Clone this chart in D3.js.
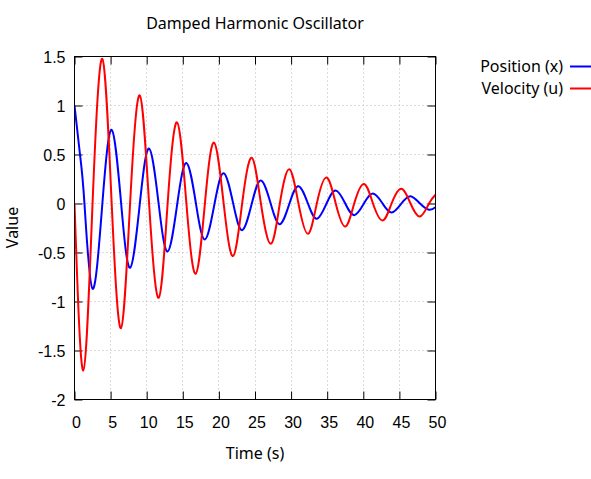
<!DOCTYPE html>
<html>
<head>
<meta charset="utf-8">
<script src="https://cdn.jsdelivr.net/npm/d3@7"></script>
<style>
  body { margin: 0; background: #fff; }
  svg { display: block; font-family: 'Noto Sans', 'Open Sans', sans-serif; }
</style>
</head>
<body>
<svg id="chart"></svg>
<script>
// values (time in s)
const timeTicks = [0, 5, 10, 15, 20, 25, 30, 35, 40, 45, 50];
const valueTicks = [-2, -1.5, -1, -0.5, 0, 0.5, 1, 1.5];

// position x(t): extrema, zero crossings and one extra point near the start
const positionPoints = [
    [0, 1.0], [0.76, 0.5], [1.38, 0], [2.5, -0.87], [3.86, 0], [5.15, 0.752],
    [6.46, 0], [7.7, -0.656], [9.05, 0], [10.33, 0.56], [11.65, 0], [12.9, -0.49],
    [14.24, 0], [15.5, 0.414], [16.82, 0], [18.06, -0.367], [19.4, 0], [20.66, 0.309],
    [21.98, 0], [23.22, -0.272], [24.56, 0], [25.82, 0.235], [27.17, 0], [28.44, -0.211],
    [29.77, 0], [31.02, 0.177], [32.33, 0], [33.56, -0.156], [34.91, 0], [36.18, 0.133],
    [37.5, 0], [38.74, -0.119], [40.08, 0], [41.34, 0.102], [42.67, 0], [43.92, -0.092],
    [45.27, 0], [46.54, 0.075], [47.86, 0], [49.1, -0.064], [50, -0.038]
];

// velocity u(t)
const velocityPoints = [
    [0, 0], [1.22, -1.704], [2.5, 0], [3.85, 1.476], [5.15, 0],
    [6.44, -1.272], [7.7, 0], [9.03, 1.103], [10.33, 0], [11.66, -0.962], [12.9, 0],
    [14.2, 0.828], [15.5, 0], [16.78, -0.717], [18.06, 0], [19.32, 0.621], [20.66, 0],
    [21.95, -0.537], [23.22, 0], [24.54, 0.466], [25.82, 0], [27.2, -0.411], [28.44, 0],
    [29.75, 0.35], [31.02, 0], [32.34, -0.309], [33.56, 0], [34.9, 0.265], [36.18, 0],
    [37.5, -0.235], [38.74, 0], [40.1, 0.2], [41.34, 0], [42.68, -0.173], [43.92, 0],
    [45.26, 0.15], [46.54, 0], [47.85, -0.133], [49.1, 0], [50, 0.089]
];

const seriesNames = ['Position (x)', 'Velocity (u)'];
const seriesColors = ['#0000ff', '#ff0000'];

const width = 591, height = 479;
const margin = {top: 56, right: 155, bottom: 80, left: 74};
const innerW = width - margin.left - margin.right;   // 362
const innerH = height - margin.top - margin.bottom;  // 343

const svg = d3.select('#chart')
    .attr('width', width)
    .attr('height', height);

const chart = svg.append('g')
    .attr('transform', `translate(${margin.left + 0.5},${margin.top + 0.5})`);

const xScale = d3.scaleLinear().domain([0, 50]).range([0, innerW - 1]);
const yScale = d3.scaleLinear().domain([-2, 1.5]).range([innerH, 0]);

chart.append('clipPath').attr('id', 'plot-clip')
    .append('rect')
    .attr('x', 0).attr('y', 0)
    .attr('width', xScale(50)).attr('height', innerH);

// dotted grid
chart.append('g').selectAll('line.vgrid')
    .data(timeTicks.slice(1, -1))
    .join('line')
    .attr('x1', d => Math.round(xScale(d))).attr('x2', d => Math.round(xScale(d)))
    .attr('y1', 0).attr('y2', innerH)
    .attr('stroke', '#b8b8b8').attr('stroke-width', 1).attr('stroke-dasharray', '1,3');

chart.append('g').selectAll('line.hgrid')
    .data(valueTicks.slice(1, -1))
    .join('line')
    .attr('y1', d => Math.round(yScale(d))).attr('y2', d => Math.round(yScale(d)))
    .attr('x1', 0).attr('x2', xScale(50))
    .attr('stroke', '#b8b8b8').attr('stroke-width', 1).attr('stroke-dasharray', '1,3');

// axes, ticks pointing inwards and mirrored on top/right
const fmt = d => String(d);
const tickLen = 8;

const xAxisG = chart.append('g')
    .attr('transform', `translate(0,${innerH})`)
    .call(d3.axisBottom(xScale).tickValues(timeTicks).tickFormat(fmt).tickSizeInner(-tickLen).tickSizeOuter(0))
    .call(g => g.select('.domain').remove());
xAxisG.selectAll('text')
    .attr('x', 1.5).attr('y', 28).attr('dy', null)
    .style('font-size', '16px').style('font-family', null).attr('fill', '#000');

const yAxisG = chart.append('g')
    .call(d3.axisLeft(yScale).tickValues(valueTicks).tickFormat(fmt).tickSizeInner(-tickLen).tickSizeOuter(0))
    .call(g => g.select('.domain').remove());
yAxisG.selectAll('text')
    .attr('x', -9).attr('dy', '0.35em')
    .style('font-size', '16px').style('font-family', null).attr('fill', '#000');

chart.append('g')
    .call(d3.axisTop(xScale).tickValues(timeTicks).tickFormat('').tickSizeInner(-tickLen).tickSizeOuter(0))
    .call(g => g.select('.domain').remove());

chart.append('g')
    .attr('transform', `translate(${xScale(50)},0)`)
    .call(d3.axisRight(yScale).tickValues(valueTicks).tickFormat('').tickSizeInner(-tickLen).tickSizeOuter(0))
    .call(g => g.select('.domain').remove());

chart.selectAll('.tick line').attr('stroke', '#000');

// curves
const line = d3.line()
    .x(d => xScale(d[0]))
    .y(d => yScale(d[1]))
    .curve(d3.curveNatural);

const plot = chart.append('g').attr('clip-path', 'url(#plot-clip)');
[positionPoints, velocityPoints].forEach((pts, i) => {
    plot.append('path')
        .datum(pts)
        .attr('fill', 'none')
        .attr('stroke', seriesColors[i])
        .attr('stroke-width', 2)
        .attr('stroke-linejoin', 'round')
        .attr('d', line);
});

// border
chart.append('rect')
    .attr('x', 0).attr('y', 0)
    .attr('width', xScale(50)).attr('height', innerH)
    .attr('fill', 'none').attr('stroke', '#000').attr('stroke-width', 1);

// titles
svg.append('text')
    .attr('x', margin.left + xScale(25) + 0.5)
    .attr('y', 28.5)
    .attr('text-anchor', 'middle')
    .style('font-size', '16px')
    .text('Damped Harmonic Oscillator');

svg.append('text')
    .attr('x', margin.left + xScale(25) + 0.5)
    .attr('y', 459)
    .attr('text-anchor', 'middle')
    .style('font-size', '16px')
    .text('Time (s)');

svg.append('text')
    .attr('transform', `translate(18,${margin.top + innerH / 2}) rotate(-90)`)
    .attr('text-anchor', 'middle')
    .style('font-size', '16px')
    .text('Value');

// legend
const legend = svg.append('g');
seriesNames.forEach((name, i) => {
    const y = 66.5 + i * 22;
    legend.append('text')
        .attr('x', 563).attr('y', y + 5)
        .attr('text-anchor', 'end')
        .style('font-size', '16px')
        .text(name);
    legend.append('line')
        .attr('x1', 570).attr('x2', 592)
        .attr('y1', y).attr('y2', y)
        .attr('stroke', seriesColors[i]).attr('stroke-width', 2);
});
</script>
</body>
</html>
